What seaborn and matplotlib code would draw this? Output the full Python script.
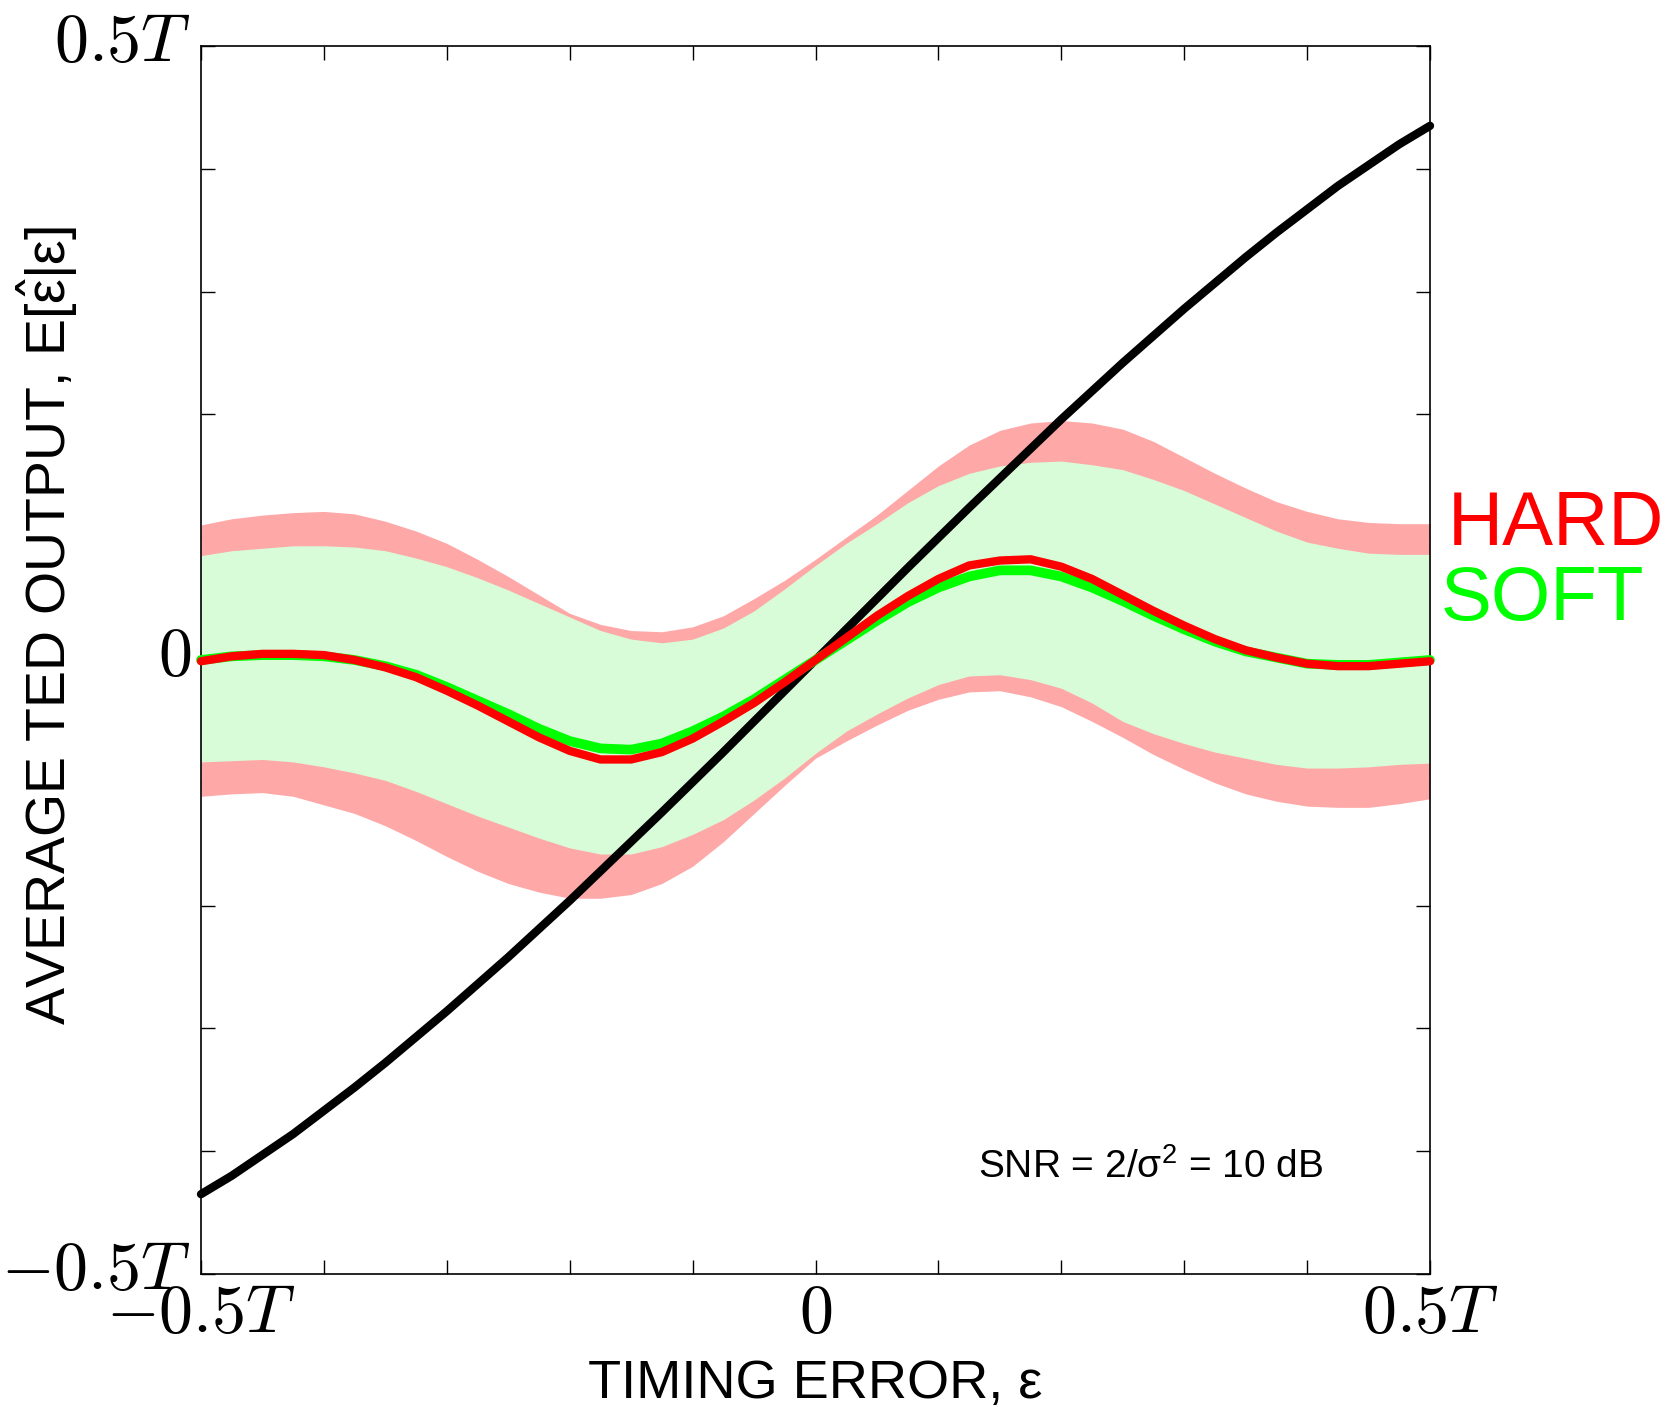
import numpy as np
import pandas as pd
import matplotlib
matplotlib.use("Agg")
import matplotlib.pyplot as plt
import matplotlib.transforms as mtransforms
import seaborn as sns

# ---------------- data (units of T) ----------------
eps = [-0.500, -0.475, -0.450, -0.425, -0.400, -0.375, -0.350, -0.325, -0.300, -0.275,
       -0.250, -0.225, -0.200, -0.175, -0.150, -0.125, -0.100, -0.075, -0.050, -0.025,
       0.000, 0.025, 0.050, 0.075, 0.100, 0.125, 0.150, 0.175, 0.200, 0.225,
       0.250, 0.275, 0.300, 0.325, 0.350, 0.375, 0.400, 0.425, 0.450, 0.475, 0.500]

ideal = [-0.435, -0.420, -0.403, -0.386, -0.367, -0.348, -0.328, -0.307, -0.286, -0.264,
         -0.242, -0.219, -0.196, -0.172, -0.148, -0.124, -0.0995, -0.075, -0.050, -0.025,
         0.000, 0.025, 0.050, 0.075, 0.0995, 0.124, 0.148, 0.172, 0.196, 0.219,
         0.242, 0.264, 0.286, 0.307, 0.328, 0.348, 0.367, 0.386, 0.403, 0.420, 0.435]

hard_mean = [-0.001, 0.003, 0.005, 0.005, 0.004, 0.000, -0.006, -0.014, -0.025, -0.037,
             -0.050, -0.063, -0.074, -0.081, -0.081, -0.075, -0.064, -0.050, -0.035, -0.018,
             0.000, 0.018, 0.036, 0.052, 0.066, 0.077, 0.081, 0.082, 0.076, 0.066,
             0.053, 0.040, 0.028, 0.017, 0.008, 0.002, -0.003, -0.005, -0.005, -0.003, -0.001]
soft_mean = [0.000, 0.003, 0.004, 0.004, 0.003, 0.000, -0.005, -0.012, -0.022, -0.033,
             -0.044, -0.056, -0.066, -0.072, -0.073, -0.068, -0.058, -0.046, -0.032, -0.016,
             0.000, 0.016, 0.032, 0.047, 0.059, 0.068, 0.073, 0.073, 0.068, 0.059,
             0.048, 0.036, 0.025, 0.015, 0.007, 0.002, -0.003, -0.004, -0.004, -0.002, 0.000]

hard_upper = [0.110, 0.115, 0.118, 0.120, 0.121, 0.119, 0.113, 0.105, 0.095, 0.082,
              0.068, 0.053, 0.038, 0.029, 0.024, 0.023, 0.027, 0.036, 0.050, 0.065,
              0.082, 0.100, 0.118, 0.138, 0.158, 0.175, 0.187, 0.193, 0.195, 0.193,
              0.188, 0.178, 0.165, 0.152, 0.140, 0.129, 0.121, 0.115, 0.112, 0.111, 0.111]
hard_lower = [-0.111, -0.109, -0.108, -0.111, -0.118, -0.125, -0.135, -0.147, -0.160, -0.172,
              -0.182, -0.189, -0.194, -0.194, -0.191, -0.182, -0.168, -0.148, -0.125, -0.102,
              -0.080, -0.066, -0.053, -0.041, -0.032, -0.026, -0.025, -0.030, -0.038, -0.050,
              -0.063, -0.077, -0.089, -0.100, -0.109, -0.115, -0.119, -0.120, -0.120, -0.117, -0.113]
soft_upper = [0.085, 0.089, 0.091, 0.093, 0.093, 0.092, 0.089, 0.083, 0.076, 0.067,
              0.057, 0.046, 0.035, 0.024, 0.017, 0.014, 0.017, 0.026, 0.040, 0.058,
              0.077, 0.095, 0.111, 0.128, 0.142, 0.152, 0.158, 0.161, 0.162, 0.159,
              0.155, 0.147, 0.138, 0.127, 0.116, 0.105, 0.096, 0.091, 0.087, 0.086, 0.086]
soft_lower = [-0.083, -0.082, -0.081, -0.083, -0.087, -0.092, -0.098, -0.107, -0.117, -0.127,
              -0.136, -0.145, -0.153, -0.158, -0.158, -0.152, -0.142, -0.130, -0.114, -0.096,
              -0.076, -0.058, -0.044, -0.031, -0.020, -0.013, -0.012, -0.016, -0.023, -0.035,
              -0.050, -0.060, -0.068, -0.075, -0.080, -0.085, -0.088, -0.088, -0.087, -0.085, -0.084]

tick_pos = [-0.5, -0.4, -0.3, -0.2, -0.1, 0.0, 0.1, 0.2, 0.3, 0.4, 0.5]
tick_labels = ["$-0.5T$", "", "", "", "", "$0$", "", "", "", "", "$0.5T$"]

series_labels = ["HARD", "SOFT"]
snr_text = "SNR = 2/σ$^{\\mathregular{2}}$ = 10 dB"
xlabel = "TIMING ERROR, ε"
ylabel = "AVERAGE TED OUTPUT, E[$\\hat{\\mathregular{ε}}$|ε]"

# ---------------- styling ----------------
sns.set_style("ticks")
plt.rcParams["font.family"] = ["Liberation Sans", "DejaVu Sans"]
plt.rcParams["mathtext.fontset"] = "cm"
plt.rcParams["text.color"] = "black"
plt.rcParams["xtick.color"] = "black"
plt.rcParams["ytick.color"] = "black"

W, H = 1676, 1407
fig = plt.figure(figsize=(W / 100, H / 100), dpi=100)
ax = fig.add_axes([201 / W, 1 - 1274 / H, (1430 - 201) / W, (1274 - 46) / H])

df = pd.DataFrame({"eps": eps, "ideal": ideal, "hard": hard_mean, "soft": soft_mean,
                   "hu": hard_upper, "hl": hard_lower, "su": soft_upper, "sl": soft_lower})

PINK = "#ffa8a8"
LGREEN = "#d8fcd8"

ax.fill_between(df["eps"], df["hl"], df["hu"], color=PINK, lw=0, zorder=1)
ax.fill_between(df["eps"], df["sl"], df["su"], color=LGREEN, lw=0, zorder=2)

sns.lineplot(data=df, x="eps", y="ideal", color="black", lw=6, ax=ax,
             estimator=None, sort=False, zorder=3, clip_on=False)
sns.lineplot(data=df, x="eps", y="soft", color="#00ff00", lw=7, ax=ax,
             estimator=None, sort=False, zorder=4, clip_on=False)
sns.lineplot(data=df, x="eps", y="hard", color="#ff0000", lw=6, ax=ax,
             estimator=None, sort=False, zorder=5, clip_on=False)

ax.set_xlim(-0.5, 0.5)
ax.set_ylim(-0.5, 0.5)
ax.set_xticks(tick_pos)
ax.set_yticks(tick_pos)
ax.set_xticklabels(tick_labels, fontsize=49)
ax.set_yticklabels(tick_labels, fontsize=49)
ax.tick_params(direction="in", length=10, width=1.0, color="black",
               top=True, right=True, bottom=True, left=True)
ax.tick_params(axis="x", pad=6)
ax.tick_params(axis="y", pad=7)
up = mtransforms.ScaledTranslation(0, 10 / 100, fig.dpi_scale_trans)
for lab in ax.get_yticklabels():
    lab.set_transform(lab.get_transform() + up)
for s in ax.spines.values():
    s.set_visible(True)
    s.set_linewidth(1.2)
    s.set_color("black")
ax.set_xlabel("")
ax.set_ylabel("")

fig.text(815 / W, 1 - 1398 / H, xlabel, fontsize=39, ha="center", va="baseline")
fig.text(66 / W, 1 - 625 / H, ylabel, fontsize=40, rotation=90, rotation_mode="anchor",
         ha="center", va="baseline", math_fontfamily="dejavusans")

fig.text(1448 / W, 1 - 545 / H, series_labels[0], color="#ff0000", fontsize=55,
         ha="left", va="baseline")
fig.text(1441 / W, 1 - 620 / H, series_labels[1], color="#00ff00", fontsize=55,
         ha="left", va="baseline")

fig.text(978 / W, 1 - 1178 / H, snr_text, fontsize=28, ha="left", va="baseline",
         math_fontfamily="dejavusans")

fig.savefig("out.png", dpi=100)
